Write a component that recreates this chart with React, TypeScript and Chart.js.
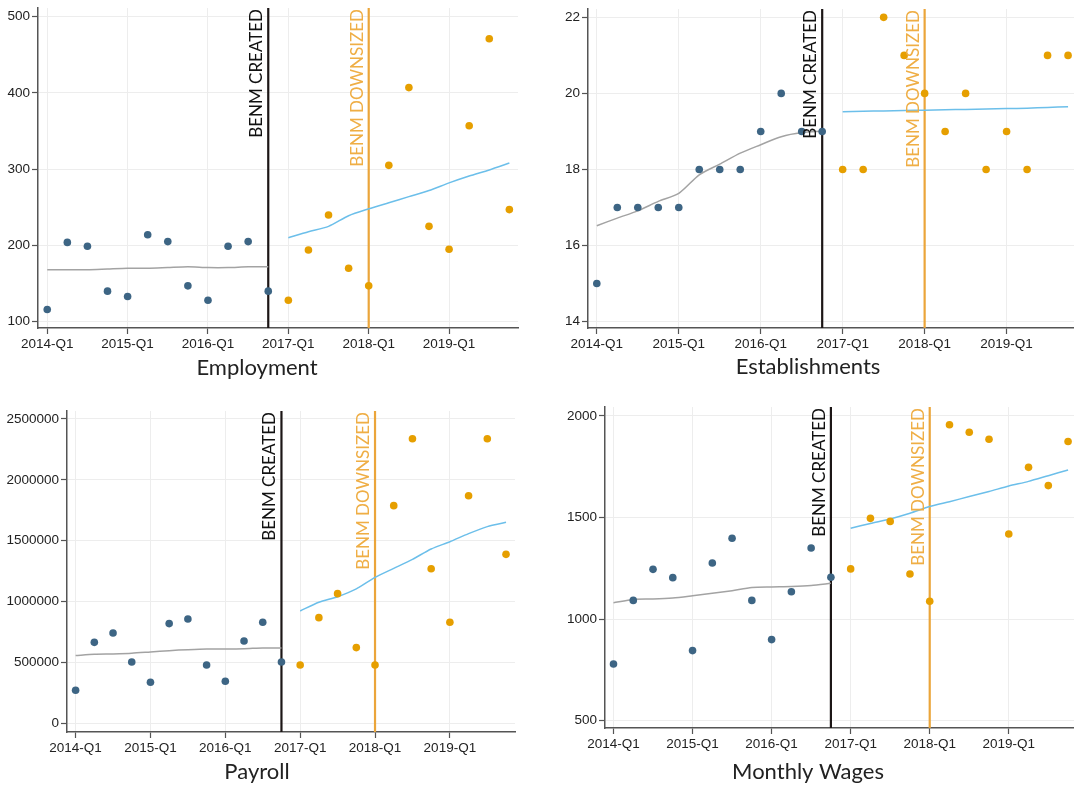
import React, { useEffect, useRef } from 'react';
import { Chart, registerables } from 'chart.js';

Chart.register(...registerables);

// Quarters on the horizontal axis
const quarterLabels = [
  '2014-Q1', '2014-Q2', '2014-Q3', '2014-Q4',
  '2015-Q1', '2015-Q2', '2015-Q3', '2015-Q4',
  '2016-Q1', '2016-Q2', '2016-Q3', '2016-Q4',
  '2017-Q1', '2017-Q2', '2017-Q3', '2017-Q4',
  '2018-Q1', '2018-Q2', '2018-Q3', '2018-Q4',
  '2019-Q1', '2019-Q2', '2019-Q3', '2019-Q4',
];
const beforeQuarters = [
  '2014-Q1', '2014-Q2', '2014-Q3', '2014-Q4',
  '2015-Q1', '2015-Q2', '2015-Q3', '2015-Q4',
  '2016-Q1', '2016-Q2', '2016-Q3', '2016-Q4',
];
const afterQuarters = [
  '2017-Q1', '2017-Q2', '2017-Q3', '2017-Q4',
  '2018-Q1', '2018-Q2', '2018-Q3', '2018-Q4',
  '2019-Q1', '2019-Q2', '2019-Q3', '2019-Q4',
];
const xTickLabels = ['2014-Q1', '2015-Q1', '2016-Q1', '2017-Q1', '2018-Q1', '2019-Q1'];

// Policy events
const createdQuarter = '2016-Q4';
const createdLabel = 'BENM CREATED';
const downsizedQuarter = '2018-Q1';
const downsizedLabel = 'BENM DOWNSIZED';

// Employment
const employmentBefore = [116, 204, 199, 140, 133, 214, 205, 147, 128, 199, 205, 140];
const employmentAfter = [128, 194, 240, 170, 147, 305, 407, 225, 195, 357, 471, 247];
const employmentFitBefore = [168, 168, 168, 169, 170, 170, 171, 172, 171, 171, 172, 172];
const employmentFitAfter = [210, 218, 225, 239, 248, 256, 264, 272, 282, 291, 299, 308];
const employmentTicks = [100, 200, 300, 400, 500];

// Establishments
const establishmentsBefore = [15, 17, 17, 17, 17, 18, 18, 18, 19, 20, 19, 19];
const establishmentsAfter = [18, 18, 22, 21, 20, 19, 20, 18, 19, 18, 21, 21];
const establishmentsFitBefore = [16.52, 16.72, 16.91, 17.16, 17.37, 17.86, 18.14, 18.43, 18.65, 18.86, 18.97, 19.01];
const establishmentsFitAfter = [19.52, 19.53, 19.54, 19.55, 19.56, 19.57, 19.58, 19.59, 19.6, 19.61, 19.63, 19.65];
const establishmentsTicks = [14, 16, 18, 20, 22];

// Payroll
const payrollBefore = [271000, 665000, 742000, 504000, 337000, 819000, 857000, 479000, 345000, 676000, 830000, 504000];
const payrollAfter = [479000, 868000, 1065000, 622000, 479000, 1788000, 2338000, 1270000, 830000, 1870000, 2338000, 1388000];
const payrollFitBefore = [556000, 567000, 570000, 575000, 586000, 597000, 605000, 611000, 611000, 613000, 619000, 619000];
const payrollFitAfter = [923000, 994000, 1040000, 1104000, 1199000, 1273000, 1347000, 1432000, 1492000, 1558000, 1616000, 1651000];
const payrollTicks = [0, 500000, 1000000, 1500000, 2000000, 2500000];

// Monthly wages
const wagesBefore = [779, 1092, 1245, 1204, 845, 1276, 1398, 1092, 899, 1135, 1350, 1206];
const wagesAfter = [1247, 1496, 1481, 1222, 1088, 1957, 1920, 1885, 1419, 1747, 1657, 1874];
const wagesFitBefore = [1081, 1097, 1099, 1104, 1115, 1127, 1140, 1155, 1158, 1160, 1165, 1176];
const wagesFitAfter = [1447, 1471, 1493, 1521, 1554, 1578, 1603, 1628, 1655, 1678, 1706, 1734];
const wagesTicks = [500, 1000, 1500, 2000];

const COLORS = {
  before: '#3d6584',
  after: '#e69f00',
  fitBefore: '#a3a3a3',
  fitAfter: '#6cbfea',
  created: '#1c1616',
  createdText: '#111111',
  downsized: '#eba53a',
  downsizedText: '#efae45',
  grid: '#ededed',
  axis: '#555555',
  text: '#222222',
};

const TICK_FONT = { family: "'Liberation Sans', Arial, sans-serif", size: 13.5 };

type Box = { left: number; top: number; width: number; height: number };
type Area = { left: number; top: number; right: number; bottom: number };

type PanelSpec = {
  title: string;
  before: number[];
  after: number[];
  fitBefore: number[];
  fitAfter: number[];
  yTicks: number[];
  yMin: number;
  yMax: number;
  xMin: number;
  xMax: number;
  box: Box;
  area: Area;
  captionX: number;
  captionY: number;
};

const qIndex = (q: string) => quarterLabels.indexOf(q);
const toPoints = (quarters: string[], values: number[]) =>
  quarters.map((q, i) => ({ x: qIndex(q), y: values[i] }));

const panels: PanelSpec[] = [
  {
    title: 'Employment',
    before: employmentBefore,
    after: employmentAfter,
    fitBefore: employmentFitBefore,
    fitAfter: employmentFitAfter,
    yTicks: employmentTicks,
    yMin: 91.7,
    yMax: 511.4,
    xMin: -0.46,
    xMax: 23.43,
    box: { left: 0, top: 0, width: 535, height: 395 },
    area: { left: 38, top: 8, right: 518, bottom: 328 },
    captionX: 257,
    captionY: 375,
  },
  {
    title: 'Establishments',
    before: establishmentsBefore,
    after: establishmentsAfter,
    fitBefore: establishmentsFitBefore,
    fitAfter: establishmentsFitAfter,
    yTicks: establishmentsTicks,
    yMin: 13.83,
    yMax: 22.22,
    xMin: -0.43,
    xMax: 23.29,
    box: { left: 535, top: 0, width: 539, height: 395 },
    area: { left: 53, top: 9, right: 539, bottom: 328 },
    captionX: 273,
    captionY: 374,
  },
  {
    title: 'Payroll',
    before: payrollBefore,
    after: payrollAfter,
    fitBefore: payrollFitBefore,
    fitAfter: payrollFitAfter,
    yTicks: payrollTicks,
    yMin: -71500,
    yMax: 2565700,
    xMin: -0.46,
    xMax: 23.48,
    box: { left: 0, top: 395, width: 535, height: 391 },
    area: { left: 67, top: 16, right: 515, bottom: 337 },
    captionX: 257,
    captionY: 384,
  },
  {
    title: 'Monthly Wages',
    before: wagesBefore,
    after: wagesAfter,
    fitBefore: wagesFitBefore,
    fitAfter: wagesFitAfter,
    yTicks: wagesTicks,
    yMin: 464,
    yMax: 2044,
    xMin: -0.43,
    xMax: 23.3,
    box: { left: 535, top: 395, width: 539, height: 391 },
    area: { left: 70, top: 12, right: 539, bottom: 333 },
    captionX: 273,
    captionY: 384,
  },
];

// Vertical event lines with rotated labels, plus the panel caption under the x axis
const eventMarkers = {
  id: 'eventMarkers',
  beforeDatasetsDraw(chart: any) {
    const { ctx, chartArea } = chart;
    const xScale = chart.scales.x;
    const lines = [
      { q: createdQuarter, color: COLORS.created },
      { q: downsizedQuarter, color: COLORS.downsized },
    ];
    lines.forEach((l) => {
      const px = xScale.getPixelForValue(qIndex(l.q));
      ctx.save();
      ctx.strokeStyle = l.color;
      ctx.lineWidth = 2.2;
      ctx.beginPath();
      ctx.moveTo(px, chartArea.top);
      ctx.lineTo(px, chartArea.bottom);
      ctx.stroke();
      ctx.restore();
    });
  },
  afterDatasetsDraw(chart: any) {
    const { ctx, chartArea } = chart;
    const xScale = chart.scales.x;
    const labels = [
      { q: createdQuarter, text: createdLabel, color: COLORS.createdText },
      { q: downsizedQuarter, text: downsizedLabel, color: COLORS.downsizedText },
    ];
    labels.forEach((l) => {
      const px = xScale.getPixelForValue(qIndex(l.q));
      ctx.save();
      ctx.translate(px - 6, chartArea.top + 1);
      ctx.rotate(-Math.PI / 2);
      ctx.font = "17px Lato, 'Open Sans', sans-serif";
      ctx.fillStyle = l.color;
      ctx.textAlign = 'right';
      ctx.textBaseline = 'alphabetic';
      ctx.fillText(l.text, 0, 0);
      ctx.restore();
    });
  },
  afterDraw(chart: any, _args: any, opts: any) {
    const { ctx } = chart;
    ctx.save();
    ctx.font = "22px Lato, 'Open Sans', sans-serif";
    ctx.fillStyle = COLORS.text;
    ctx.textAlign = 'center';
    ctx.textBaseline = 'alphabetic';
    ctx.fillText(opts.title, opts.x, opts.y);
    ctx.restore();
  },
};

function Panel({ spec }: { spec: PanelSpec }) {
  const ref = useRef<HTMLCanvasElement | null>(null);

  useEffect(() => {
    const canvas = ref.current;
    if (!canvas) return;
    const { box, area } = spec;
    const chart = new Chart(canvas, {
      type: 'scatter',
      data: {
        datasets: [
          {
            type: 'scatter',
            data: toPoints(beforeQuarters, spec.before),
            backgroundColor: COLORS.before,
            pointRadius: 3.8,
            pointBorderWidth: 0,
            order: 0,
          },
          {
            type: 'scatter',
            data: toPoints(afterQuarters, spec.after),
            backgroundColor: COLORS.after,
            pointRadius: 3.8,
            pointBorderWidth: 0,
            order: 0,
          },
          {
            type: 'line',
            data: toPoints(beforeQuarters, spec.fitBefore),
            borderColor: COLORS.fitBefore,
            borderWidth: 1.5,
            pointRadius: 0,
            tension: 0.25,
            fill: false,
            order: 1,
          },
          {
            type: 'line',
            data: toPoints(afterQuarters, spec.fitAfter),
            borderColor: COLORS.fitAfter,
            borderWidth: 1.5,
            pointRadius: 0,
            tension: 0.25,
            fill: false,
            order: 1,
          },
        ] as any,
      },
      options: {
        responsive: false,
        animation: false,
        devicePixelRatio: 1,
        events: [],
        layout: {
          autoPadding: false,
          padding: { top: area.top, right: box.width - area.right, left: 0, bottom: 0 },
        },
        plugins: {
          legend: { display: false },
          tooltip: { enabled: false },
          eventMarkers: { title: spec.title, x: spec.captionX, y: spec.captionY },
        } as any,
        scales: {
          x: {
            type: 'linear',
            min: spec.xMin,
            max: spec.xMax,
            afterBuildTicks: (axis: any) => {
              axis.ticks = xTickLabels.map((l) => ({ value: qIndex(l) }));
            },
            afterFit: (axis: any) => {
              axis.height = box.height - area.bottom;
              axis.paddingLeft = 0;
              axis.paddingRight = 0;
            },
            ticks: {
              callback: (v: any) => quarterLabels[Math.round(Number(v))] ?? '',
              font: TICK_FONT,
              color: COLORS.text,
              maxRotation: 0,
              autoSkip: false,
              padding: 2,
            },
            grid: {
              color: COLORS.grid,
              lineWidth: 1,
              tickLength: 6,
              tickColor: COLORS.axis,
              tickWidth: 1.2,
            },
            border: { display: true, color: COLORS.axis, width: 1.5 },
          },
          y: {
            type: 'linear',
            min: spec.yMin,
            max: spec.yMax,
            afterBuildTicks: (axis: any) => {
              axis.ticks = spec.yTicks.map((v) => ({ value: v }));
            },
            afterFit: (axis: any) => {
              axis.width = area.left;
              axis.paddingTop = 0;
              axis.paddingBottom = 0;
            },
            ticks: {
              callback: (v: any) => String(v),
              font: TICK_FONT,
              color: COLORS.text,
              autoSkip: false,
              padding: 2,
            },
            grid: {
              color: COLORS.grid,
              lineWidth: 1,
              tickLength: 6,
              tickColor: COLORS.axis,
              tickWidth: 1.2,
            },
            border: { display: true, color: COLORS.axis, width: 1.5 },
          },
        },
      } as any,
      plugins: [eventMarkers as any],
    });
    return () => chart.destroy();
  }, [spec]);

  const { box } = spec;
  return (
    <canvas
      ref={ref}
      width={box.width}
      height={box.height}
      style={{
        position: 'absolute',
        left: box.left,
        top: box.top,
        width: box.width,
        height: box.height,
      }}
    />
  );
}

export default function App() {
  return (
    <div
      style={{
        position: 'fixed',
        left: 0,
        top: 0,
        width: 1074,
        height: 786,
        background: '#ffffff',
        overflow: 'hidden',
      }}
    >
      {panels.map((p) => (
        <Panel key={p.title} spec={p} />
      ))}
    </div>
  );
}
